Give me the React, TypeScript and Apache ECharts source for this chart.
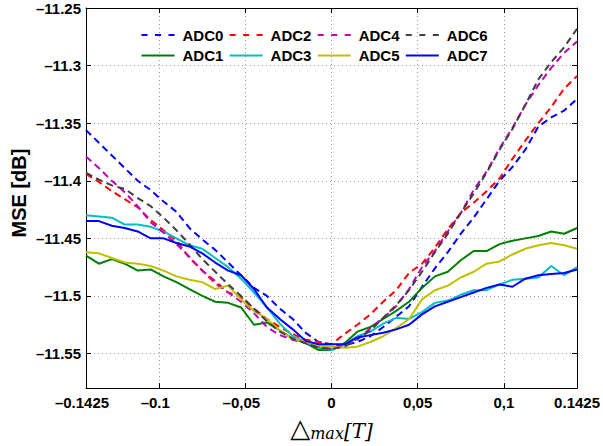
import React, { useEffect, useRef } from 'react';
import * as echarts from 'echarts';

const xValues = [-0.1425, -0.135, -0.1275, -0.12, -0.1125, -0.105, -0.0975, -0.09, -0.0825, -0.075, -0.0675, -0.06, -0.0525, -0.045, -0.0375, -0.03, -0.0225, -0.015, -0.0075, 0, 0.0075, 0.015, 0.0225, 0.03, 0.0375, 0.045, 0.0525, 0.06, 0.0675, 0.075, 0.0825, 0.09, 0.0975, 0.105, 0.1125, 0.12, 0.1275, 0.135, 0.1425];

const adc0 = [-11.356, -11.367, -11.378, -11.389, -11.400, -11.408, -11.418, -11.427, -11.441, -11.451, -11.460, -11.471, -11.482, -11.493, -11.500, -11.511, -11.520, -11.532, -11.540, -11.542, -11.543, -11.540, -11.535, -11.527, -11.518, -11.509, -11.492, -11.476, -11.462, -11.446, -11.432, -11.416, -11.400, -11.388, -11.373, -11.353, -11.345, -11.339, -11.329];
const adc1 = [-11.465, -11.472, -11.468, -11.472, -11.478, -11.477, -11.483, -11.488, -11.494, -11.500, -11.505, -11.506, -11.510, -11.525, -11.523, -11.530, -11.537, -11.541, -11.547, -11.547, -11.541, -11.531, -11.527, -11.520, -11.513, -11.505, -11.493, -11.483, -11.479, -11.469, -11.461, -11.461, -11.455, -11.452, -11.450, -11.448, -11.444, -11.446, -11.441];
const adc2 = [-11.394, -11.401, -11.409, -11.416, -11.423, -11.434, -11.443, -11.452, -11.467, -11.478, -11.489, -11.497, -11.501, -11.511, -11.520, -11.527, -11.533, -11.538, -11.540, -11.542, -11.533, -11.525, -11.516, -11.505, -11.495, -11.480, -11.472, -11.458, -11.442, -11.428, -11.419, -11.409, -11.398, -11.381, -11.365, -11.350, -11.336, -11.320, -11.309];
const adc3 = [-11.430, -11.431, -11.432, -11.438, -11.438, -11.440, -11.444, -11.450, -11.456, -11.459, -11.467, -11.475, -11.485, -11.497, -11.510, -11.524, -11.535, -11.540, -11.545, -11.547, -11.542, -11.535, -11.531, -11.524, -11.519, -11.520, -11.514, -11.506, -11.504, -11.499, -11.495, -11.495, -11.490, -11.486, -11.485, -11.484, -11.474, -11.482, -11.475];
const adc4 = [-11.379, -11.389, -11.400, -11.410, -11.422, -11.436, -11.445, -11.455, -11.466, -11.478, -11.487, -11.497, -11.505, -11.515, -11.527, -11.534, -11.538, -11.541, -11.544, -11.546, -11.543, -11.538, -11.528, -11.519, -11.509, -11.494, -11.475, -11.461, -11.444, -11.428, -11.408, -11.392, -11.372, -11.354, -11.334, -11.317, -11.302, -11.289, -11.279];
const adc5 = [-11.462, -11.463, -11.467, -11.471, -11.472, -11.474, -11.478, -11.483, -11.486, -11.488, -11.494, -11.491, -11.503, -11.513, -11.520, -11.530, -11.537, -11.540, -11.543, -11.544, -11.545, -11.544, -11.540, -11.535, -11.528, -11.520, -11.503, -11.495, -11.491, -11.484, -11.479, -11.472, -11.470, -11.464, -11.459, -11.456, -11.454, -11.456, -11.459];
const adc6 = [-11.393, -11.399, -11.404, -11.407, -11.415, -11.422, -11.432, -11.443, -11.455, -11.468, -11.479, -11.490, -11.500, -11.511, -11.522, -11.531, -11.537, -11.541, -11.545, -11.546, -11.544, -11.537, -11.530, -11.519, -11.508, -11.495, -11.479, -11.462, -11.446, -11.428, -11.411, -11.393, -11.373, -11.355, -11.334, -11.312, -11.297, -11.284, -11.268];
const adc7 = [-11.435, -11.435, -11.439, -11.441, -11.444, -11.450, -11.450, -11.454, -11.457, -11.463, -11.471, -11.478, -11.482, -11.494, -11.510, -11.520, -11.529, -11.539, -11.542, -11.542, -11.542, -11.536, -11.534, -11.532, -11.529, -11.525, -11.516, -11.509, -11.505, -11.501, -11.497, -11.493, -11.490, -11.492, -11.485, -11.482, -11.481, -11.480, -11.477];

const seriesNames = ['ADC0', 'ADC1', 'ADC2', 'ADC3', 'ADC4', 'ADC5', 'ADC6', 'ADC7'];
const seriesValues = [adc0, adc1, adc2, adc3, adc4, adc5, adc6, adc7];
const seriesColors = ['#0000ff', '#008000', '#ff0000', '#00bfbf', '#bf00bf', '#bfbf00', '#404040', '#0000ff'];
const seriesDashed = [true, false, true, false, true, false, true, false];

const xTickValues = [-0.1425, -0.1, -0.05, 0, 0.05, 0.1, 0.1425];
const xTickLabels = ['\u20130.1425', '\u20130.1', '\u20130,05', '0', '0,05', '0,1', '0.1425'];
const yTickValues = [-11.55, -11.5, -11.45, -11.4, -11.35, -11.3, -11.25];
const yTickLabels = ['\u201311.55', '\u201311.5', '\u201311.45', '\u201311.4', '\u201311.35', '\u201311.3', '\u201311.25'];

const FONT = '"Liberation Sans", Arial, Helvetica, sans-serif';

function lookup(vals: number[], labels: string[], v: number) {
  for (let i = 0; i < vals.length; i++) if (Math.abs(vals[i] - v) < 1e-7) return labels[i];
  return '';
}

export default function App() {
  const ref = useRef<HTMLDivElement>(null);
  useEffect(() => {
    const chart = echarts.init(ref.current!, null, { renderer: 'svg' });
    const gridLeft = 86, gridRight = 24, gridTop = 8, gridBottom = 49;

    const baseX = {
      type: 'value',
      min: -0.1425,
      max: 0.1425,
      axisLine: { show: true, onZero: false, lineStyle: { color: '#000', width: 1 } },
      axisTick: { show: true, inside: true, length: 5, customValues: xTickValues, lineStyle: { color: '#000' } },
    };
    const baseY = {
      type: 'value',
      min: -11.58,
      max: -11.25,
      axisLine: { show: true, onZero: false, lineStyle: { color: '#000', width: 1 } },
      axisTick: { show: true, inside: true, length: 5, customValues: yTickValues, lineStyle: { color: '#000' } },
    };

    const graphics: any[] = [];
    for (let k = 0; k < seriesNames.length; k++) {
      const col = Math.floor(k / 2);
      const row = k % 2;
      const ly = row === 0 ? 35 : 55.5;
      const lx = 141.5 + col * 88.1;
      graphics.push({
        type: 'line',
        shape: { x1: lx, y1: ly, x2: lx + 33, y2: ly },
        style: { stroke: seriesColors[k], lineWidth: 2, lineDash: seriesDashed[k] ? [6, 7.5] : null },
        silent: true,
      });
      graphics.push({
        type: 'text',
        x: lx + 41,
        y: ly,
        style: { text: seriesNames[k], fill: '#000', font: 'bold 15px ' + FONT, align: 'left', verticalAlign: 'middle' },
        silent: true,
      });
    }
    graphics.push({
      type: 'text',
      x: 19,
      y: 193,
      rotation: Math.PI / 2,
      style: { text: 'MSE [dB]', fill: '#000', font: 'bold 20px ' + FONT, align: 'center', verticalAlign: 'middle' },
      silent: true,
    });

    const option: any = {
      animation: false,
      backgroundColor: '#fff',
      grid: { left: gridLeft, right: gridRight, top: gridTop, bottom: gridBottom, containLabel: false },
      xAxis: [
        {
          ...baseX,
          position: 'bottom',
          axisLabel: {
            show: true,
            customValues: xTickValues,
            margin: 7,
            color: '#000',
            fontFamily: FONT,
            fontWeight: 'bold',
            fontSize: 15,
            formatter: (v: number) => {
              const s = lookup(xTickValues, xTickLabels, v);
              return v < 0 ? '{n|' + s + '}' : s;
            },
            rich: {
              n: { color: '#000', fontFamily: FONT, fontWeight: 'bold', fontSize: 15, padding: [0, 8, 0, 0] },
            },
          },
          splitLine: { show: true, lineStyle: { color: '#9a9a9a', type: [1, 3], width: 1 } },
          name: '{t|\u25B3}{s|max}{b|[T]}',
          nameLocation: 'middle',
          nameGap: 21,
          nameTextStyle: {
            rich: {
              t: { fontFamily: '"DejaVu Sans", sans-serif', fontSize: 26, color: '#000', verticalAlign: 'bottom', lineHeight: 28 },
              s: { fontFamily: '"DejaVu Serif", serif', fontStyle: 'italic', fontSize: 16, color: '#000', verticalAlign: 'bottom', lineHeight: 14 },
              b: { fontFamily: '"DejaVu Serif", serif', fontStyle: 'italic', fontSize: 20, color: '#000', verticalAlign: 'bottom', lineHeight: 28 },
            },
          },
        },
        {
          ...baseX,
          position: 'top',
          axisLabel: { show: false },
          splitLine: { show: false },
        },
      ],
      yAxis: [
        {
          ...baseY,
          position: 'left',
          axisLabel: {
            show: true,
            customValues: yTickValues,
            margin: 5,
            color: '#000',
            fontFamily: FONT,
            fontWeight: 'bold',
            fontSize: 15,
            formatter: (v: number) => lookup(yTickValues, yTickLabels, v),
          },
          splitLine: { show: true, lineStyle: { color: '#9a9a9a', type: [1, 3], width: 1 } },
        },
        {
          ...baseY,
          position: 'right',
          axisLabel: { show: false },
          splitLine: { show: false },
        },
      ],
      graphic: graphics,
      series: seriesNames.map((name, k) => ({
        name,
        type: 'line',
        xAxisIndex: 0,
        yAxisIndex: 0,
        symbol: 'none',
        data: xValues.map((x, i) => [x, seriesValues[k][i]]),
        lineStyle: { color: seriesColors[k], width: 2, type: seriesDashed[k] ? [7, 4.5] : 'solid' },
        itemStyle: { color: seriesColors[k] },
        z: 2 + k,
      })),
    };
    chart.setOption(option);
    return () => chart.dispose();
  }, []);
  return <div ref={ref} style={{ position: 'absolute', left: 0, top: 0, width: 603, height: 446, background: '#fff' }} />;
}
